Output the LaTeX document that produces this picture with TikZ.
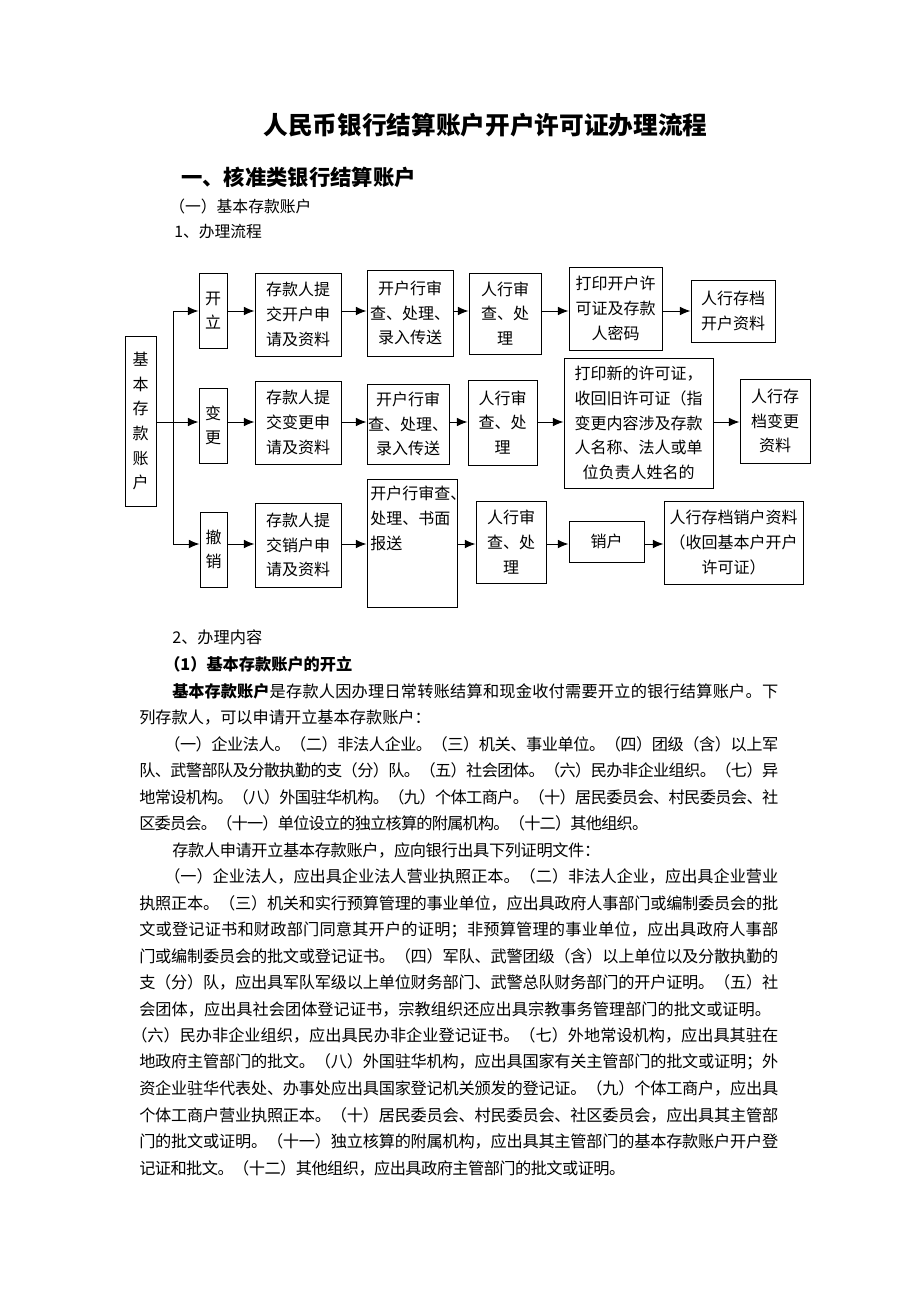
\documentclass[tikz,border=0pt]{standalone}
\usepackage{fontspec}
\setmainfont{Noto Sans CJK SC}
\usetikzlibrary{arrows.meta}
\makeatletter
\newcommand\jl[2]{\makebox[0.75\dimexpr#1pt\relax][s]{\@tfor\jx:=#2\do{\jx\hskip 0pt plus 1fil minus 1fil}\unskip}}
\makeatother
\newcommand\bodyf{\fontsize{12.15}{19}\selectfont}
\newcommand\boxf{\fontsize{12}{18.5}\selectfont}
\tikzset{
  bx/.style 2 args={draw, line width=0.75pt, minimum width=#1*0.75pt, minimum height=#2*0.75pt, inner sep=0pt, align=center, font=\boxf},
  tl/.style={anchor=west, inner sep=0pt, font=\bodyf},
  arr/.style={-{Latex[length=8pt,width=6.5pt]}, line width=0.75pt},
  ln/.style={line width=0.75pt}
}
\begin{document}
\begin{tikzpicture}[x=0.75pt,y=-0.75pt]
\useasboundingbox (0,0) rectangle (920,1302);
\fill[white] (0,0) rectangle (920,1302);
% headings
\node[inner sep=0pt, font=\fontsize{18.5}{22}\selectfont\bfseries] (title) at (485.5,125) {人民币银行结算账户开户许可证办理流程};
\node[anchor=west, inner sep=0pt, font=\fontsize{16}{20}\selectfont\bfseries] (h1) at (181,177) {一、核准类银行结算账户};
\node[anchor=west, inner sep=0pt, font=\fontsize{11.85}{16}\selectfont] (h2) at (169,206) {（一）基本存款账户};
\node[anchor=west, inner sep=0pt, font=\fontsize{11.85}{16}\selectfont] (h3) at (174,232) {1、办理流程};
% flowchart boxes
\node[bx={31}{170}] (L) at (140.5,421) {基\\本\\存\\款\\账\\户};
\node[bx={28}{75}] (k1) at (213,310.5) {开\\立};
\node[bx={28}{75}] (k2) at (213,425.5) {变\\更};
\node[bx={27}{75}] (k3) at (213.5,549.5) {撤\\销};
\node[bx={86}{83}] (a1) at (298,314.5) {存款人提\\交开户申\\请及资料};
\node[bx={86}{86}] (b1) at (410,313) {开户行审\\查、处理、\\录入传送};
\node[bx={72}{81}] (c1) at (505,313.5) {人行审\\查、处\\理};
\node[bx={93}{83}] (d1) at (615.5,308.5) {打印开户许\\可证及存款\\人密码};
\node[bx={84}{62}] (e1) at (733,311) {人行存档\\开户资料};
\node[bx={86}{83}] (a2) at (298,422.5) {存款人提\\交变更申\\请及资料};
\node[bx={82}{80}] (b2) at (408,424) {开户行审\\查、处理、\\录入传送};
\node[bx={69}{85}] (c2) at (502.5,422.5) {人行审\\查、处\\理};
\node[bx={149}{130}] (d2) at (638.5,423) {打印新的许可证，\\收回旧许可证（指\\变更内容涉及存款\\人名称、法人或单\\位负责人姓名的};
\node[bx={70}{84}] (e2) at (775,421) {人行存\\档变更\\资料};
\node[bx={86}{84}] (a3) at (298,545) {存款人提\\交销户申\\请及资料};
\node[bx={90}{128}] (b3) at (412,543) {};
\node[anchor=north west, inner sep=0pt, align=left, font=\boxf] (b3t) at (370,486) {开户行审查、\\处理、书面\\报送};
\node[bx={70}{82}] (c3) at (511,542) {人行审\\查、处\\理};
\node[bx={75}{41}] (d3) at (606.5,541.5) {销户};
\node[bx={139}{83}] (e3) at (733.5,542.5) {人行存档销户资料\\（收回基本户开户\\许可证）};
% connectors
\coordinate (r1) at (0,311);
\coordinate (r2) at (0,422);
\coordinate (r3) at (0,544);
\coordinate (t1) at (173,311);
\coordinate (t2) at (173,422);
\coordinate (t3) at (173,544);
\draw[ln] (t1) -- (t3);
\draw[ln] (L.east |- r2) -- (t2);
\draw[arr] (t1) -- (k1.west |- r1);
\draw[arr] (t2) -- (k2.west |- r2);
\draw[arr] (t3) -- (k3.west |- r3);
\foreach \u/\v in {k1/a1,a1/b1,b1/c1,c1/d1,d1/e1} \draw[arr] (\u.east |- r1) -- (\v.west |- r1);
\foreach \u/\v in {k2/a2,a2/b2,b2/c2,c2/d2,d2/e2} \draw[arr] (\u.east |- r2) -- (\v.west |- r2);
\foreach \u/\v in {k3/a3,a3/b3,b3/c3,c3/d3,d3/e3} \draw[arr] (\u.east |- r3) -- (\v.west |- r3);
% body text
\node[anchor=west, inner sep=0pt, font=\bodyf] (s1) at (172,637) {2、办理内容};
\node[anchor=west, inner sep=0pt, font=\bodyf\bfseries] (s2) at (164,664) {（1）基本存款账户的开立};
\node[tl] (p1) at (172,691) {\jl{606}{{{\bfseries 基本存款账户}}是存款人因办理日常转账结算和现金收付需要开立的银行结算账户。下}};
\node[tl] (p2) at (139,717.5) {列存款人，可以申请开立基本存款账户：};
\node[tl] (p3) at (164,744) {\jl{614}{（一）企业法人。（二）非法人企业。（三）机关、事业单位。（四）团级（含）以上军}};
\node[tl] (p4) at (139,770.5) {\jl{639}{队、武警部队及分散执勤的支（分）队。（五）社会团体。（六）民办非企业组织。（七）异}};
\node[tl] (p5) at (139,797) {\jl{639}{地常设机构。（八）外国驻华机构。（九）个体工商户。（十）居民委员会、村民委员会、社}};
\node[tl] (p6) at (139,823.5) {\jl{509}{区委员会。（十一）单位设立的独立核算的附属机构。（十二）其他组织。}};
\node[tl] (p7) at (172,850) {\jl{428}{存款人申请开立基本存款账户，应向银行出具下列证明文件：}};
\node[tl] (p8) at (164,876.5) {\jl{614}{（一）企业法人，应出具企业法人营业执照正本。（二）非法人企业，应出具企业营业}};
\node[tl] (p9) at (139,903) {\jl{639}{执照正本。（三）机关和实行预算管理的事业单位，应出具政府人事部门或编制委员会的批}};
\node[tl] (p10) at (139,929.5) {\jl{639}{文或登记证书和财政部门同意其开户的证明；非预算管理的事业单位，应出具政府人事部}};
\node[tl] (p11) at (139,956) {\jl{639}{门或编制委员会的批文或登记证书。（四）军队、武警团级（含）以上单位以及分散执勤的}};
\node[tl] (p12) at (139,982.5) {\jl{639}{支（分）队，应出具军队军级以上单位财务部门、武警总队财务部门的开户证明。（五）社}};
\node[tl] (p13) at (139,1009) {会团体，应出具社会团体登记证书，宗教组织还应出具宗教事务管理部门的批文或证明。};
\node[tl] (p14) at (131,1035.5) {\jl{647}{（六）民办非企业组织，应出具民办非企业登记证书。（七）外地常设机构，应出具其驻在}};
\node[tl] (p15) at (139,1062) {\jl{639}{地政府主管部门的批文。（八）外国驻华机构，应出具国家有关主管部门的批文或证明；外}};
\node[tl] (p16) at (139,1088.5) {\jl{639}{资企业驻华代表处、办事处应出具国家登记机关颁发的登记证。（九）个体工商户，应出具}};
\node[tl] (p17) at (139,1115) {\jl{639}{个体工商户营业执照正本。（十）居民委员会、村民委员会、社区委员会，应出具其主管部}};
\node[tl] (p18) at (139,1141.5) {\jl{639}{门的批文或证明。（十一）独立核算的附属机构，应出具其主管部门的基本存款账户开户登}};
\node[tl] (p19) at (139,1168) {\jl{486}{记证和批文。（十二）其他组织，应出具政府主管部门的批文或证明。}};
\end{tikzpicture}
\end{document}
